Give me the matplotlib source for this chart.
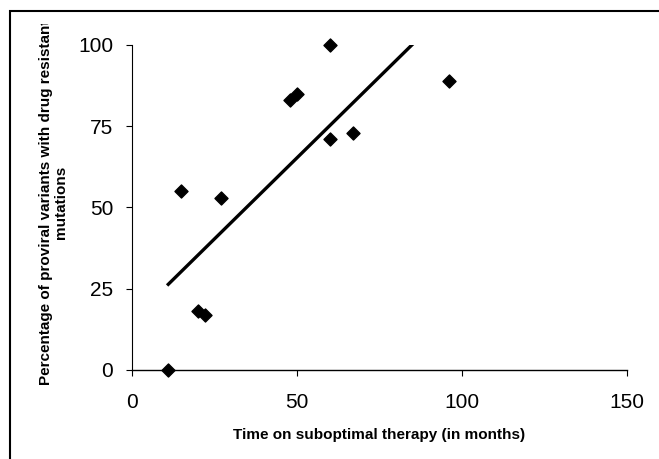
import matplotlib.pyplot as plt
import matplotlib.patches as patches
from matplotlib.transforms import Bbox, TransformedBbox
import numpy as np

plt.rcParams['font.family'] = ['Liberation Sans', 'DejaVu Sans']

# months on suboptimal therapy vs % proviral variants with resistance mutations
months = [11, 15, 20, 22, 27, 48, 50, 60, 60, 67, 96]
percent = [0, 55, 18, 17, 53, 83, 85, 100, 71, 73, 89]

fig = plt.figure(figsize=(6.59, 4.59), dpi=100)
ax = fig.add_axes([0.2003, 0.194, 0.7508, 0.708])

ax.scatter(months, percent, marker='D', s=44, color='black', zorder=3,
           clip_on=False)

# linear trendline over the data range
slope, intercept = np.polyfit(months, percent, 1)
xs = np.array([min(months), max(months)])
ax.plot(xs, slope * xs + intercept, color='black', lw=2.4)

ax.set_xlim(0, 150)
ax.set_ylim(0, 100)
ax.set_xticks([0, 50, 100, 150])
ax.set_yticks([0, 25, 50, 75, 100])
ax.spines['top'].set_visible(False)
ax.spines['right'].set_visible(False)
ax.spines['left'].set_linewidth(0.8)
ax.spines['bottom'].set_linewidth(1.0)
ax.tick_params(axis='y', direction='out', length=4.5, width=0.8,
               labelsize=15, pad=9)
ax.tick_params(axis='x', direction='out', length=4.5, width=0.8,
               labelsize=15, pad=12)

ax.set_xlabel('Time on suboptimal therapy (in months)', fontsize=11,
              fontweight='bold')
ax.xaxis.set_label_coords(0.5, -0.18)
ylab = ax.set_ylabel('Percentage of proviral variants with drug resistant\nmutations',
                     fontsize=11, fontweight='bold', linespacing=1.1)
ax.yaxis.set_label_coords(-0.129, 0.515)
# label is cut off at the top like in the original
clip = TransformedBbox(Bbox([[0, 0], [1, 1 - 24 / 459]]), fig.transFigure)
ylab.set_clip_box(clip)
ylab.set_clip_on(True)

# frame around the chart area
frame = patches.Rectangle((10 / 659, -0.05), 1.2, 1.05 - 11 / 459,
                          transform=fig.transFigure, fill=False,
                          edgecolor='black', lw=1.5)
fig.patches.append(frame)

fig.savefig('out.png', dpi=100)
